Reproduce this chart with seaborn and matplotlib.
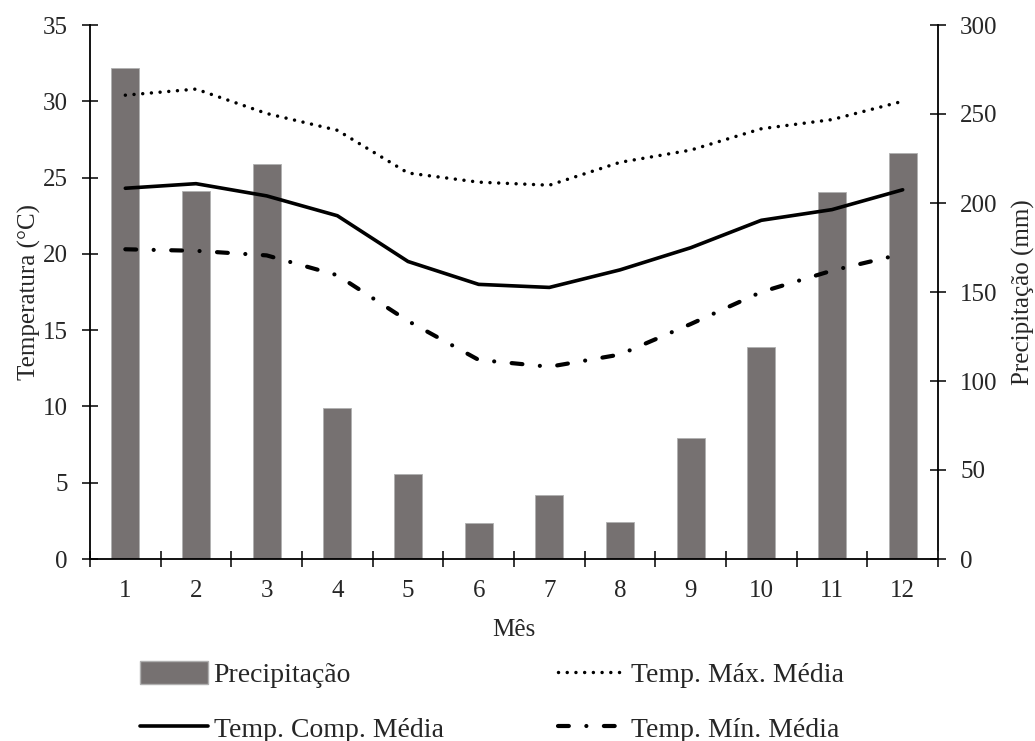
import numpy as np
import seaborn as sns
import matplotlib.pyplot as plt
from matplotlib.patches import Patch
from matplotlib.ticker import MultipleLocator

# dados mensais
meses = [1, 2, 3, 4, 5, 6, 7, 8, 9, 10, 11, 12]
precipitacao = [276, 207, 222, 85, 48, 20, 36, 21, 68, 119, 206, 228]
temp_max = [30.4, 30.8, 29.2, 28.1, 25.3, 24.7, 24.5, 26.0, 26.8, 28.2, 28.8, 30.0]
temp_comp = [24.3, 24.6, 23.8, 22.5, 19.5, 18.0, 17.8, 18.95, 20.4, 22.2, 22.9, 24.2]
temp_min = [20.3, 20.2, 19.9, 18.6, 15.6, 13.05, 12.6, 13.4, 15.4, 17.5, 18.9, 20.0]

sns.set_style('ticks')
plt.rcParams['font.family'] = ['Liberation Serif', 'DejaVu Serif']
plt.rcParams['font.size'] = 18

fig = plt.figure(figsize=(10.35, 7.41), dpi=100)
ax = fig.add_axes([90 / 1035, 1 - 559 / 741, (938 - 90) / 1035, (559 - 25) / 741])
ax2 = ax.twinx()

cor_barra = '#767171'
sns.barplot(x=meses, y=precipitacao, native_scale=True, width=0.4, color=cor_barra,
            saturation=1, edgecolor='#b0b0b0', linewidth=0.6, errorbar=None, ax=ax2)

sns.lineplot(x=meses, y=temp_max, color='black', lw=2.5, ax=ax)
l_max = ax.lines[-1]
l_max.set_linestyle((0, (0.01, 2.5)))
l_max.set_dash_capstyle('round')

sns.lineplot(x=meses, y=temp_comp, color='black', lw=2.6, ax=ax)
l_comp = ax.lines[-1]

sns.lineplot(x=meses, y=temp_min, color='black', lw=3, ax=ax)
l_min = ax.lines[-1]
l_min.set_linestyle((0, (2.6, 4.2, 0.01, 4.2)))
l_min.set_dash_capstyle('round')

# linhas por cima das barras
ax.set_zorder(ax2.get_zorder() + 1)
ax.patch.set_visible(False)

ax.set_xlim(0.5, 12.5)
ax.set_ylim(0, 35)
ax2.set_ylim(0, 300)
ax.yaxis.set_major_locator(MultipleLocator(5))
ax2.yaxis.set_major_locator(MultipleLocator(50))
ax.set_xticks(meses)
ax.set_xticks(np.arange(0.5, 13, 1), minor=True)
ax.tick_params(axis='x', which='major', length=0, pad=15)
ax.tick_params(axis='x', which='minor', direction='inout', length=12, width=1.3)
ax.tick_params(axis='y', direction='inout', length=12, width=1.3, pad=10)
ax2.tick_params(axis='y', direction='inout', length=12, width=1.3, pad=10)

for s in ['top', 'right']:
    ax.spines[s].set_visible(False)
for s in ['top', 'left', 'bottom']:
    ax2.spines[s].set_visible(False)
for a in (ax, ax2):
    for s in a.spines.values():
        s.set_linewidth(1.3)
        s.set_color('black')

ax.set_xlabel('Mês', fontsize=18, labelpad=12)
ax.set_ylabel('Temperatura (°C)', fontsize=18, labelpad=1)
ax2.set_ylabel('Precipitação (mm)', fontsize=18, labelpad=10.5)

handles = [Patch(facecolor=cor_barra, edgecolor='#b0b0b0'), l_comp, l_max, l_min]
labels = ['Precipitação', 'Temp. Comp. Média', 'Temp. Máx. Média', 'Temp. Mín. Média']
fig.legend(handles, labels, ncol=2, loc='upper left', bbox_to_anchor=(140 / 1035, 1 - 661 / 741),
           frameon=False, fontsize=20, handlelength=2.45, handleheight=0.9, handletextpad=0.2,
           columnspacing=4.1, labelspacing=1.0, borderpad=0, borderaxespad=0)

plt.savefig('out.png', dpi=100)
